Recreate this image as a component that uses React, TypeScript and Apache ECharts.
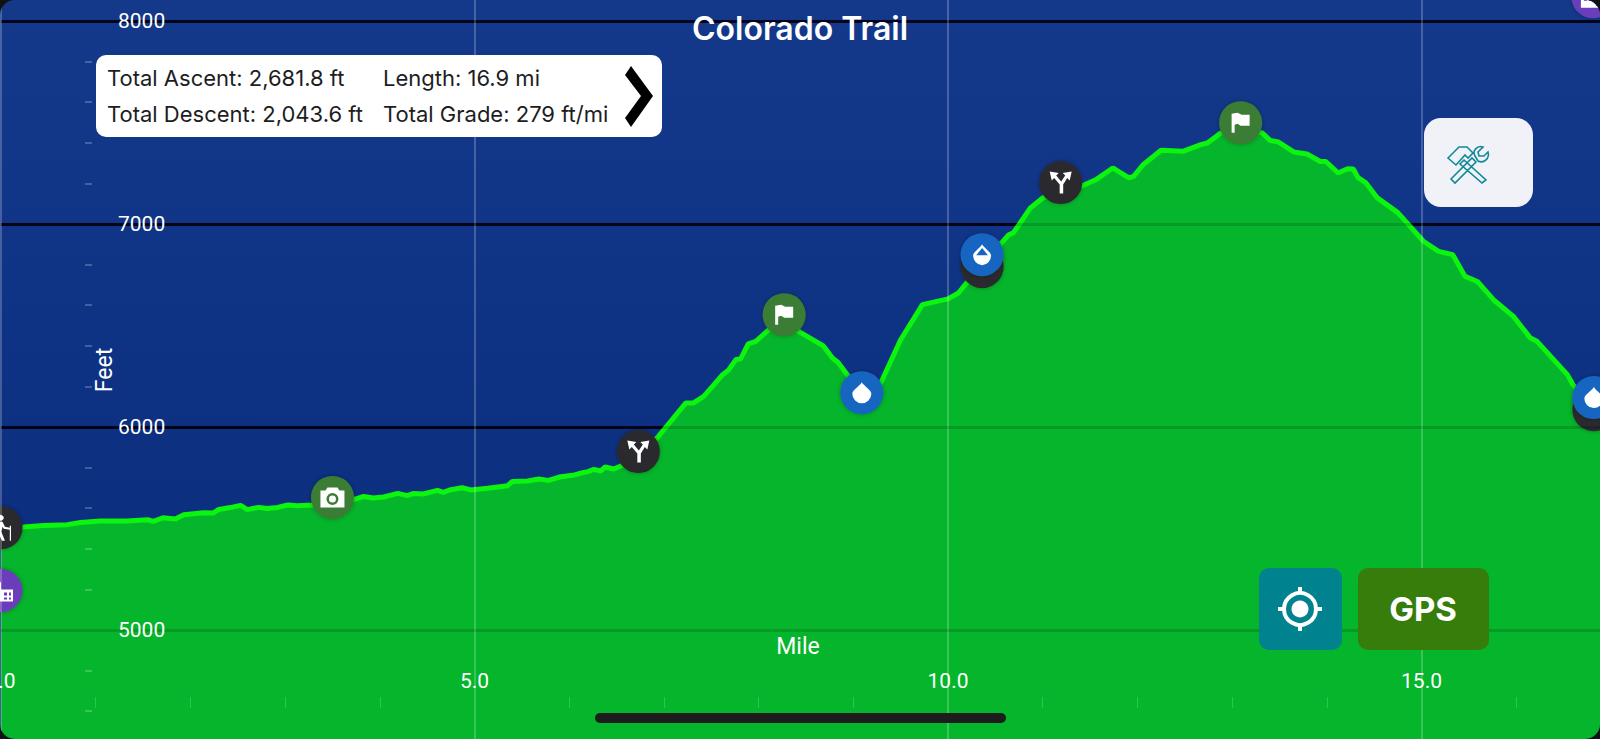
import React, { useEffect, useRef } from "react";
import * as echarts from "echarts";

const trailMiles = [
  0, 0.24, 0.45, 0.7, 0.84, 1.05, 1.33, 1.55, 1.61, 1.71, 1.84, 1.93, 2.14, 2.24, 2.3, 2.42, 2.53, 2.6, 2.72, 2.81,
  2.92, 3.03, 3.13, 3.29, 3.5, 3.74, 3.83, 3.93, 4.04, 4.19, 4.29, 4.35, 4.46, 4.61, 4.67, 4.75, 4.87, 4.96, 5.14,
  5.35, 5.4, 5.56, 5.68, 5.78, 5.91, 6.04, 6.14, 6.2, 6.26, 6.33, 6.38, 6.47, 6.57, 6.73, 6.93, 7.23, 7.31, 7.42,
  7.52, 7.62, 7.68, 7.76, 7.81, 7.89, 7.97, 8.1, 8.27, 8.44, 8.68, 8.78, 8.84, 8.95, 9.09, 9.29, 9.5, 9.73, 10.0,
  10.11, 10.21, 10.36, 10.58, 10.64, 10.69, 10.87, 11.0, 11.19, 11.4, 11.56, 11.74, 11.91, 11.96, 12.06, 12.25,
  12.48, 12.67, 12.74, 12.88, 13.09, 13.32, 13.4, 13.49, 13.65, 13.79, 13.93, 13.99, 14.12, 14.22, 14.28, 14.33,
  14.41, 14.53, 14.75, 14.88, 15.02, 15.18, 15.33, 15.46, 15.59, 15.76, 15.97, 16.15, 16.22, 16.54, 16.6, 16.89,
];
const trailFeet = [
  5504, 5507, 5515, 5519, 5530, 5537, 5537, 5543, 5535, 5553, 5547, 5568, 5578, 5576, 5594, 5603, 5614, 5593, 5604,
  5599, 5604, 5616, 5612, 5616, 5632, 5645, 5658, 5650, 5655, 5673, 5662, 5672, 5670, 5688, 5678, 5691, 5701, 5690,
  5698, 5711, 5732, 5734, 5744, 5737, 5755, 5762, 5775, 5780, 5791, 5783, 5803, 5793, 5813, 5869, 5947, 6118, 6118,
  6151, 6204, 6258, 6279, 6332, 6335, 6410, 6422, 6476, 6519, 6466, 6401, 6340, 6318, 6249, 6110, 6217, 6430, 6603,
  6631, 6660, 6717, 6814, 6914, 6947, 6956, 7079, 7128, 7174, 7185, 7218, 7276, 7227, 7235, 7292, 7363, 7358, 7391,
  7399, 7448, 7479, 7448, 7412, 7404, 7355, 7345, 7308, 7308, 7251, 7272, 7271, 7228, 7204, 7130, 7056, 6988, 6915,
  6865, 6849, 6742, 6717, 6627, 6545, 6438, 6422, 6258, 6208, 6036,
];

const darkPoints = [[0, 5504], [6.73, 5879], [10.36, 6790], [11.19, 7204], [16.82, 6085]];
const greenPoints = [[3.5, 5653], [8.27, 6553], [13.09, 7499]];
const bluePoints = [[9.09, 6169], [10.36, 6849], [16.82, 6145]];
const purplePoints = [[0, 5194], [16.81, 8120]];

const hikerPoints = [[0, 5504]];
const buildingPoints = [[0, 5194], [16.81, 8120]];
const cameraPoints = [[3.5, 5653]];
const forkPoints = [[6.73, 5879], [11.19, 7204]];
const flagPoints = [[8.27, 6553], [13.09, 7499]];
const dropPoints = [[9.09, 6169], [16.82, 6145]];
const halfDropPoints = [[10.36, 6849]];

const statsLeft = ["Total Ascent: 2,681.8 ft", "Total Descent: 2,043.6 ft"];
const statsRight = ["Length: 16.9 mi", "Total Grade: 279 ft/mi"];

const FLAG = "M0 1 L6 0 L10 2 L18 2 L18 13 L9 13 L6 11 L3 12 L3 20 L0 20 Z";
const DROP = "M10 0 C12 4 20 8 20 12 A10 10 0 0 1 0 12 C0 8 8 4 10 0 Z";
const HALF_DROP = "M10 0 C12 4 20 8 20 12 A10 10 0 0 1 0 12 C0 8 8 4 10 0 Z M10 4 L3.5 11.5 H16.5 Z";
const FORK = "M10 22 V13 L4.5 6.5 L2 9 L0 0 L9 1.5 L6.5 4 L11.5 10 L15.5 4 L13 1.5 L22 0 L20 9 L17.5 6.5 L13.5 13 V22 Z";
const CAMERA =
  "M7 0 H17 L19 3 H24 V20 H0 V3 H5 Z M18 11.5 A6 6 0 0 0 6 11.5 A6 6 0 0 0 18 11.5 Z M15.5 11.5 A3.5 3.5 0 0 1 8.5 11.5 A3.5 3.5 0 0 1 15.5 11.5 Z";
const HIKER =
  "M9 0 A3 3 0 1 1 8.99 0 Z M6 7 H11 L13 12 L17 13 V15 L12 14 L11 12 L10 17 L13 26 H10.5 L7.5 18 L6 26 H3 L5 13 L3 15 L1.5 14 Z M17 11 H18 V26 H17 Z";
const BUILDING =
  "M0 3 L6 0 L12 3 V10 H24 V22 H0 Z M3 6 V9 H6 V6 Z M8 6 V9 H10 V6 Z M3 12 V15 H6 V12 Z M8 12 V15 H10 V12 Z M15 13 V16 H18 V13 Z M20 13 V16 H22 V13 Z M15 18 V20 H18 V18 Z M20 18 V20 H22 V18 Z";
const TOOLS =
  "M17 14 L39 34 L35 37 L13 18 Z M1 12 L12 1 L20 1 L26 7 L21 12 L18 9 L9 19 Z M4 33 L25 12 L29 16 L8 37 Z M28 10 C25 5 30 -1 36 1 L31 6 L32 10 L37 10 L41 6 C43 12 37 18 31 15 Z";

echarts.graphic.registerShape("toolsIcon", echarts.graphic.extendPath(TOOLS, {}));

const FONT = "Roboto, sans-serif";

function circles(data: number[][], color: string) {
  return {
    type: "scatter",
    data,
    clip: false,
    silent: true,
    z: 4,
    symbol: "circle",
    symbolSize: 43,
    itemStyle: { color, shadowBlur: 4, shadowColor: "rgba(0,0,0,0.3)", opacity: 1 },
  };
}
function glyphs(data: number[][], path: string, size: number[]) {
  return {
    type: "scatter",
    data,
    clip: false,
    silent: true,
    z: 4,
    symbol: "path://" + path,
    symbolSize: size,
    itemStyle: { color: "#fff", opacity: 1 },
  };
}
function label(text: string, x: number, y: number, extra: any = {}) {
  return {
    type: "text",
    z: 100,
    x,
    y,
    silent: true,
    style: { text, x: 0, y: 0, fill: "#1d1d1f", fontFamily: "Inter, sans-serif", fontSize: 22, verticalAlign: "middle", ...extra },
  };
}

export default function App() {
  const ref = useRef<HTMLDivElement>(null);
  useEffect(() => {
    document.body.style.margin = "0";
    const chart = echarts.init(ref.current!, undefined, { renderer: "svg" });
    const yCommon = { type: "value", min: 4000, max: 9000, interval: 1000, position: "left" };
    chart.setOption({
      animation: false,
      backgroundColor: "transparent",
      title: {
        text: "Colorado Trail",
        left: 795,
        top: 7,
        textAlign: "center",
        textStyle: { color: "#fff", fontSize: 32, fontWeight: 600, fontFamily: "Inter, sans-serif" },
      },
      grid: { left: 1, top: -182, width: 1894, height: 1015, outerBoundsMode: "none", containLabel: false },
      xAxis: {
        type: "value",
        min: 0,
        max: 20,
        interval: 5,
        position: "bottom",
        offset: -136,
        z: 5,
        axisLine: { show: false, onZero: false },
        axisTick: { show: false },
        minorTick: { show: true, splitNumber: 5, length: 11, lineStyle: { color: "rgba(255,255,255,0.18)", width: 1 } },
        axisLabel: {
          inside: true,
          margin: 6,
          color: "#fff",
          fontSize: 21,
          fontFamily: FONT,
          formatter: (v: number) => (v >= 20 ? "" : v.toFixed(1)),
        },
        splitLine: { show: true, lineStyle: { color: "rgba(255,255,255,0.22)", width: 2 } },
      },
      yAxis: [
        {
          ...yCommon,
          z: 0,
          axisLine: { show: false, onZero: false },
          axisTick: { show: false },
          axisLabel: { show: false },
          splitLine: { show: true, lineStyle: { color: "#02051c", width: 3 } },
        },
        {
          ...yCommon,
          offset: -91,
          z: 5,
          axisLine: { show: false, onZero: false },
          axisTick: { show: false },
          minorTick: { show: true, splitNumber: 5, length: 7, lineStyle: { color: "rgba(255,255,255,0.22)", width: 2 } },
          axisLabel: {
            inside: true,
            margin: 26,
            color: "#fff",
            fontSize: 21,
            fontFamily: FONT,
            formatter: (v: number) => (v <= 4000 || v >= 9000 ? "" : String(v)),
          },
          splitLine: { show: false },
        },
      ],
      series: [
        {
          type: "line",
          data: trailMiles.map((m, i) => [m, trailFeet[i]]),
          showSymbol: false,
          silent: true,
          z: 2,
          lineStyle: { color: "#0cf50f", width: 5 },
          areaStyle: { color: "#05b52b", opacity: 1 },
          markLine: {
            silent: true,
            symbol: "none",
            label: { show: false },
            lineStyle: { color: "rgba(0,0,0,0.15)", width: 3, type: "solid" },
            data: [{ yAxis: 5000 }, { yAxis: 6000 }, { yAxis: 7000 }],
          },
        },
        circles(darkPoints, "#2b2b2d"),
        circles(greenPoints, "#3a7d36"),
        circles(bluePoints, "#1565c0"),
        circles(purplePoints, "#6a3dba"),
        glyphs(hikerPoints, HIKER, [20, 26]),
        glyphs(buildingPoints, BUILDING, [24, 22]),
        glyphs(cameraPoints, CAMERA, [24, 20]),
        glyphs(forkPoints, FORK, [22, 22]),
        glyphs(flagPoints, FLAG, [18, 20]),
        glyphs(dropPoints, DROP, [19, 21]),
        glyphs(halfDropPoints, HALF_DROP, [18, 21]),
      ],
      graphic: {
        elements: [
          label("Mile", 798, 646, { fill: "#fff", align: "center", fontFamily: FONT, fontSize: 23 }),
          { ...label("Feet", 104, 370, { fill: "#fff", align: "center", fontFamily: FONT, fontSize: 23 }), rotation: Math.PI / 2 },
          { type: "rect", z: 90, silent: true, shape: { x: 96, y: 55, width: 566, height: 82, r: 10 }, style: { fill: "#fff" } },
          label(statsLeft[0], 107, 78),
          label(statsLeft[1], 107, 114),
          label(statsRight[0], 383, 78),
          label(statsRight[1], 383, 114),
          {
            type: "polygon",
            z: 100,
            silent: true,
            shape: { points: [[631, 66], [653, 96], [631, 127], [625, 118], [641, 96], [625, 75]] },
            style: { fill: "#000" },
          },
          { type: "rect", z: 90, silent: true, shape: { x: 1424, y: 118, width: 109, height: 89, r: 17 }, style: { fill: "#f0f2f8" } },
          {
            type: "toolsIcon",
            z: 100,
            silent: true,
            x: 1447,
            y: 146,
            style: { fill: "none", stroke: "#0f8a96", lineWidth: 1.6 },
          },
          { type: "rect", z: 90, silent: true, shape: { x: 1259, y: 568, width: 83, height: 82, r: 10 }, style: { fill: "#00838f" } },
          { type: "circle", z: 100, silent: true, shape: { cx: 1300, cy: 609, r: 16 }, style: { fill: "none", stroke: "#fff", lineWidth: 4 } },
          { type: "circle", z: 100, silent: true, shape: { cx: 1300, cy: 609, r: 8.5 }, style: { fill: "#fff" } },
          { type: "line", z: 100, silent: true, shape: { x1: 1278, y1: 609, x2: 1285, y2: 609 }, style: { stroke: "#fff", lineWidth: 4 } },
          { type: "line", z: 100, silent: true, shape: { x1: 1315, y1: 609, x2: 1322, y2: 609 }, style: { stroke: "#fff", lineWidth: 4 } },
          { type: "line", z: 100, silent: true, shape: { x1: 1300, y1: 587, x2: 1300, y2: 594 }, style: { stroke: "#fff", lineWidth: 4 } },
          { type: "line", z: 100, silent: true, shape: { x1: 1300, y1: 624, x2: 1300, y2: 631 }, style: { stroke: "#fff", lineWidth: 4 } },
          { type: "rect", z: 90, silent: true, shape: { x: 1358, y: 568, width: 131, height: 82, r: 10 }, style: { fill: "#367d0c" } },
          label("GPS", 1423, 609, { fill: "#fff", align: "center", fontSize: 33, fontWeight: 700 }),
          { type: "rect", z: 100, silent: true, shape: { x: 595, y: 713, width: 411, height: 10, r: 5 }, style: { fill: "#1c1c1e" } },
        ],
      },
    });
    return () => chart.dispose();
  }, []);

  return (
    <div style={{ position: "fixed", left: 0, top: 0, width: 1600, height: 739, background: "#111" }}>
      <div
        ref={ref}
        style={{
          width: 1600,
          height: 739,
          borderRadius: 15,
          overflow: "hidden",
          background: "linear-gradient(180deg,#14398b 0%,#0c2f80 70%)",
        }}
      />
    </div>
  );
}
